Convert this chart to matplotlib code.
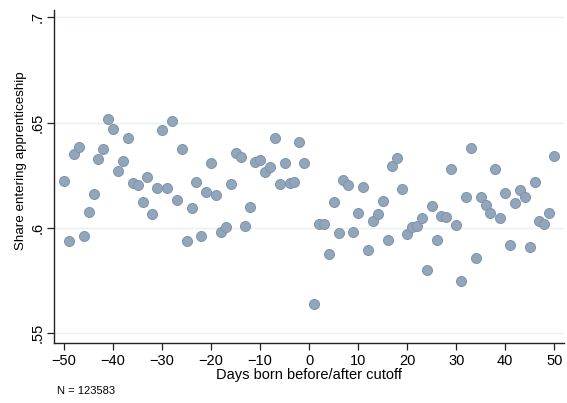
import matplotlib
matplotlib.use("Agg")
import matplotlib.pyplot as plt
import numpy as np

# days born relative to cutoff (day 0 is not in the data)
days = list(range(-50, 0)) + list(range(1, 51))

share = [
    0.6223, 0.5938, 0.6350, 0.6384, 0.5960, 0.6076, 0.6163, 0.6328, 0.6377, 0.6519,
    0.6472, 0.6269, 0.6316, 0.6426, 0.6212, 0.6203, 0.6123, 0.6241, 0.6065, 0.6192,
    0.6465, 0.6192, 0.6510, 0.6133, 0.6375, 0.5936, 0.6093, 0.6220, 0.5962, 0.6172,
    0.6310, 0.6157, 0.5981, 0.6005, 0.6209, 0.6358, 0.6339, 0.6011, 0.6101, 0.6313,
    0.6323, 0.6266, 0.6291, 0.6429, 0.6207, 0.6310, 0.6212, 0.6217, 0.6408, 0.6310,
    # after cutoff
    0.5641, 0.6017, 0.6019, 0.5875, 0.6123, 0.5975, 0.6228, 0.6206, 0.5983, 0.6070,
    0.6195, 0.5896, 0.6035, 0.6066, 0.6130, 0.5943, 0.6293, 0.6331, 0.6187, 0.5970,
    0.6003, 0.6011, 0.6046, 0.5802, 0.6104, 0.5941, 0.6057, 0.6054, 0.6278, 0.6014,
    0.5750, 0.6146, 0.6378, 0.5859, 0.6149, 0.6108, 0.6070, 0.6278, 0.6046, 0.6165,
    0.5918, 0.6119, 0.6180, 0.6149, 0.5908, 0.6220, 0.6033, 0.6019, 0.6070, 0.6342,
]

xticks = [-50, -40, -30, -20, -10, 0, 10, 20, 30, 40, 50]
yticks = [0.55, 0.6, 0.65, 0.7]
ylabels = [".55", ".6", ".65", ".7"]

plt.rcParams['font.family'] = ['Liberation Sans', 'DejaVu Sans']

fig = plt.figure(figsize=(5.67, 4.03), dpi=100)
ax = fig.add_axes([0.0958, 0.1501, 0.8989, 0.8251])

ax.scatter(days, share, s=52, color='#92a6bb', edgecolors='#7e94ab',
           linewidths=0.7, zorder=3)

ax.set_xlim(-52, 52)
ax.set_ylim(0.5456, 0.7035)
ax.set_xticks(xticks)
ax.set_yticks(yticks)
ax.set_yticklabels(ylabels, rotation=90, va='center')
ax.tick_params(direction='out', length=5, width=0.9, labelsize=10.5, color='#222222')
ax.tick_params(axis='y', pad=2)
ax.tick_params(axis='x', pad=3)

ax.grid(axis='y', color='#e8f0f2', linewidth=1.0, zorder=0)
ax.set_axisbelow(True)

for side in ['top', 'right']:
    ax.spines[side].set_visible(False)
for side in ['left', 'bottom']:
    ax.spines[side].set_color('#222222')
    ax.spines[side].set_linewidth(1.0)

ax.set_xlabel('Days born before/after cutoff', fontsize=10.5, labelpad=0)
ax.set_ylabel('Share entering apprenticeship', fontsize=9.6)
ax.yaxis.set_label_coords(-0.054, 0.546)

fig.text(0.1005, 0.018, 'N = 123583', fontsize=8, va='bottom', ha='left')

fig.savefig('out.png', dpi=100)
